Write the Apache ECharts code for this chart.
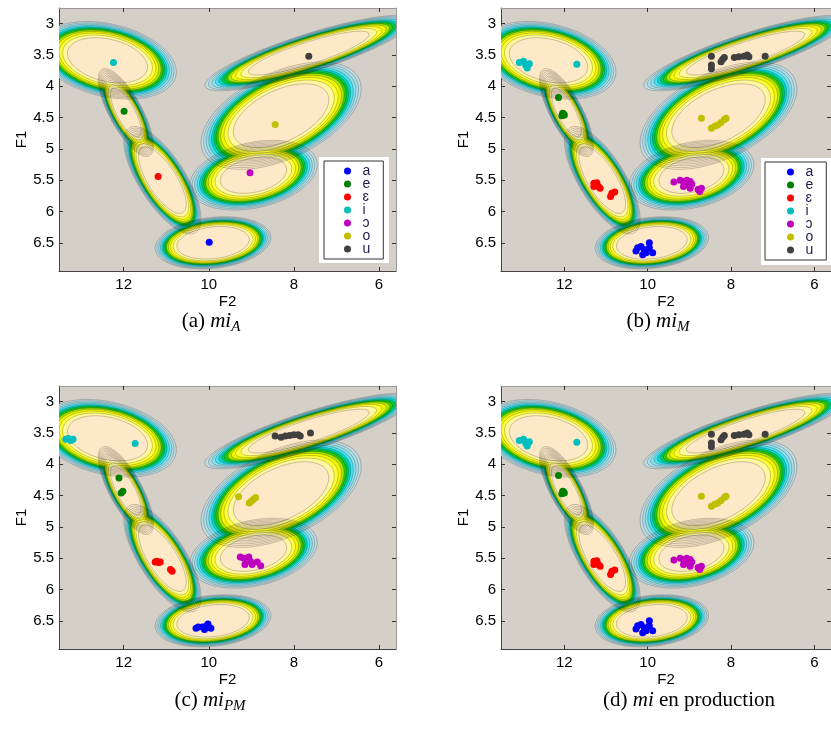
<!DOCTYPE html>
<html><head><meta charset="utf-8">
<script src="https://cdn.jsdelivr.net/npm/echarts@6/dist/echarts.min.js"></script>
<style>html,body{margin:0;padding:0;background:#fff}#c{width:831px;height:735px}</style>
</head><body><div id="c"></div>
<script>
// ---------- categories & tick labels ----------
const VOWELS = ['a', 'e', 'ɛ', 'i', 'ɔ', 'o', 'u'];
const VOWEL_COLORS = ['#0000ff', '#008000', '#ff0000', '#00bfbf', '#bf00bf', '#bfbf00', '#404040'];
const X_TICKS = [6, 8, 10, 12];
const Y_TICKS = [3, 3.5, 4, 4.5, 5, 5.5, 6, 6.5];
const X_RANGE = [5.6, 13.52];
const Y_RANGE = [2.75, 6.95];

// ---------- Gaussian vowel model (per vowel) ----------
const CENTER_F2 = [9.90, 11.95, 11.09, 12.38, 8.95, 8.30, 7.65];
const CENTER_F1 = [6.50, 4.42, 5.50, 3.585, 5.42, 4.47, 3.47];
const SPREAD_F2 = [0.85, 0.36, 0.56, 0.94, 0.78, 1.12, 1.42];
const SPREAD_F1 = [0.26, 0.39, 0.53, 0.36, 0.29, 0.51, 0.35];
const CORR = [0.2, -0.75, -0.72, -0.3, 0.3, 0.5, 0.85];
const OUTER_RATIO = [1.6, 1.8, 1.62, 1.72, 1.92, 1.68, 1.72];
// relative position of each contour line between the innermost and outermost line
const LEVEL_POS = [0, 0.17, 0.29, 0.39, 0.47, 0.54, 0.61, 0.68, 0.76, 0.84, 0.92, 1.0];
// fill inside each contour line (index 0 = innermost)
const LEVEL_FILLS = ['#fde8c8', '#fff6a0', '#ffff38', '#f0f600', '#b0e400', '#30cc00',
                     '#00c850', '#00d8c8', '#48e0ee', '#8cdeea', '#acdde6', '#c2dbe2'];

// ---------- scatter points (F2, F1) per panel, per vowel ----------
const PANEL_A = [
  [[9.99, 6.49]], [[11.99, 4.40]], [[11.19, 5.44]], [[12.24, 3.62]],
  [[9.03, 5.38]], [[8.44, 4.61]], [[7.65, 3.52]]
];
const PANEL_B = [
  [[10.28,6.63],[10.24,6.58],[10.16,6.56],[10.08,6.61],[10.04,6.66],[9.96,6.58],[9.96,6.50],[9.88,6.66],[10.12,6.69]],
  [[12.14,4.18],[12.04,4.43],[12.00,4.46],[12.06,4.47],[12.02,4.44]],
  [[11.29,5.55],[11.22,5.54],[11.26,5.57],[11.18,5.60],[11.29,5.60],[11.14,5.63],[10.86,5.71],[10.79,5.69],[10.89,5.76]],
  [[13.08,3.62],[12.98,3.60],[12.93,3.66],[12.89,3.71],[12.84,3.64],[11.70,3.65]],
  [[9.37,5.53],[9.22,5.50],[9.14,5.52],[9.06,5.50],[8.98,5.52],[9.06,5.57],[9.14,5.60],[8.98,5.63],[8.94,5.56],[8.79,5.65],[8.71,5.63],[8.75,5.68]],
  [[8.71,4.51],[8.47,4.67],[8.39,4.64],[8.32,4.62],[8.24,4.58],[8.16,4.53],[8.12,4.51]],
  [[8.47,3.52],[8.47,3.66],[8.47,3.72],[8.24,3.61],[8.20,3.57],[8.16,3.54],[7.92,3.54],[7.81,3.53],[7.69,3.52],[7.61,3.50],[7.57,3.53],[7.18,3.52]]
];
const PANEL_C = [
  [[10.30,6.62],[10.25,6.60],[10.15,6.60],[10.05,6.58],[10.00,6.60],[9.95,6.62],[10.10,6.64],[10.02,6.55]],
  [[12.11,4.22],[12.06,4.46],[12.02,4.43]],
  [[11.26,5.56],[11.22,5.55],[11.18,5.57],[11.14,5.56],[10.90,5.68],[10.86,5.71]],
  [[13.36,3.60],[13.30,3.59],[13.24,3.62],[13.19,3.60],[11.73,3.67]],
  [[9.26,5.48],[9.18,5.50],[9.12,5.52],[9.06,5.48],[9.02,5.55],[9.15,5.60],[8.98,5.60],[8.86,5.56],[8.78,5.62]],
  [[9.30,4.52],[9.05,4.62],[9.00,4.59],[8.95,4.56],[8.90,4.53]],
  [[8.44,3.55],[8.30,3.57],[8.20,3.55],[8.10,3.54],[8.00,3.53],[7.90,3.53],[7.85,3.55],[7.61,3.50]]
];
const PANEL_D = [
  [[10.28,6.63],[10.24,6.58],[10.16,6.56],[10.08,6.61],[10.04,6.66],[9.96,6.58],[9.96,6.50],[9.88,6.66],[10.12,6.69]],
  [[12.14,4.18],[12.04,4.43],[12.00,4.46],[12.06,4.47],[12.02,4.44]],
  [[11.29,5.55],[11.22,5.54],[11.26,5.57],[11.18,5.60],[11.29,5.60],[11.14,5.63],[10.86,5.71],[10.79,5.69],[10.89,5.76]],
  [[13.08,3.62],[12.98,3.60],[12.93,3.66],[12.89,3.71],[12.84,3.64],[11.70,3.65]],
  [[9.37,5.53],[9.22,5.50],[9.14,5.52],[9.06,5.50],[8.98,5.52],[9.06,5.57],[9.14,5.60],[8.98,5.63],[8.94,5.56],[8.79,5.65],[8.71,5.63],[8.75,5.68]],
  [[8.71,4.51],[8.47,4.67],[8.39,4.64],[8.32,4.62],[8.24,4.58],[8.16,4.53],[8.12,4.51]],
  [[8.47,3.52],[8.47,3.66],[8.47,3.72],[8.24,3.61],[8.20,3.57],[8.16,3.54],[7.92,3.54],[7.81,3.53],[7.69,3.52],[7.61,3.50],[7.57,3.53],[7.18,3.52]]
];
const PANELS = [PANEL_A, PANEL_B, PANEL_C, PANEL_D];

// ---------- layout ----------
const GRIDS = [
  {left: 59, top: 8, width: 337, height: 263},
  {left: 501, top: 8, width: 337, height: 263},
  {left: 59, top: 386, width: 337, height: 263},
  {left: 501, top: 386, width: 337, height: 263}
];
const SANS = 'Liberation Sans, Arial, sans-serif';
const SERIF = 'Liberation Serif, Times New Roman, serif';

function ellipsePoints(api, v, k) {
  const f = 1 + (OUTER_RATIO[v] - 1) * LEVEL_POS[k];
  const sx = SPREAD_F2[v] * f, sy = SPREAD_F1[v] * f, r = CORR[v], q = Math.sqrt(1 - r * r);
  const pts = [];
  const n = 96;
  for (let j = 0; j < n; j++) {
    const t = j / n * 2 * Math.PI, c = Math.cos(t), s = Math.sin(t);
    pts.push(api.coord([CENTER_F2[v] + sx * c, CENTER_F1[v] + sy * (r * c + q * s)]));
  }
  return pts;
}

const fillItems = [];
for (let k = LEVEL_POS.length - 1; k >= 0; k--) for (let v = 0; v < VOWELS.length; v++) fillItems.push([v, k]);
const lineItems = fillItems.slice();

const xAxes = [], yAxes = [], series = [];
GRIDS.forEach((g, gi) => {
  const tickStyle = {color: '#333', width: 1};
  xAxes.push({
    gridIndex: gi, type: 'value', min: X_RANGE[0], max: X_RANGE[1], inverse: true, position: 'bottom',
    axisLine: {show: true, onZero: false, lineStyle: {color: '#444', width: 1}},
    axisTick: {show: true, inside: true, length: 4, customValues: X_TICKS, lineStyle: tickStyle},
    axisLabel: {show: true, customValues: X_TICKS, margin: 6, fontSize: 15, color: '#000', fontFamily: SANS},
    splitLine: {show: false},
    name: 'F2', nameLocation: 'middle', nameGap: 23,
    nameTextStyle: {fontSize: 15, color: '#000', fontFamily: SANS}
  });
  xAxes.push({
    gridIndex: gi, type: 'value', min: X_RANGE[0], max: X_RANGE[1], inverse: true, position: 'top',
    axisLine: {show: true, onZero: false, lineStyle: {color: '#999', width: 1}},
    axisTick: {show: true, inside: true, length: 4, customValues: X_TICKS, lineStyle: tickStyle},
    axisLabel: {show: false}, splitLine: {show: false}
  });
  yAxes.push({
    gridIndex: gi, type: 'value', min: Y_RANGE[0], max: Y_RANGE[1], inverse: true, position: 'left',
    axisLine: {show: true, onZero: false, lineStyle: {color: '#444', width: 1}},
    axisTick: {show: true, inside: true, length: 4, customValues: Y_TICKS, lineStyle: tickStyle},
    axisLabel: {show: true, customValues: Y_TICKS, margin: 5, fontSize: 15, color: '#000', fontFamily: SANS},
    splitLine: {show: false},
    name: 'F1', nameLocation: 'middle', nameGap: 30, nameRotate: 90,
    nameTextStyle: {fontSize: 15, color: '#000', fontFamily: SANS}
  });
  yAxes.push({
    gridIndex: gi, type: 'value', min: Y_RANGE[0], max: Y_RANGE[1], inverse: true, position: 'right',
    axisLine: {show: true, onZero: false, lineStyle: {color: '#999', width: 1}},
    axisTick: {show: true, inside: true, length: 4, customValues: Y_TICKS, lineStyle: tickStyle},
    axisLabel: {show: false}, splitLine: {show: false}
  });
  series.push({
    type: 'custom', xAxisIndex: 2 * gi, yAxisIndex: 2 * gi, clip: true, silent: true, z: 1,
    data: fillItems,
    renderItem: (params, api) => {
      const v = api.value(0), k = api.value(1);
      return {type: 'polygon', z2: 20 - k, shape: {points: ellipsePoints(api, v, k)},
              style: {fill: LEVEL_FILLS[k], stroke: null}};
    }
  });
  series.push({
    type: 'custom', xAxisIndex: 2 * gi, yAxisIndex: 2 * gi, clip: true, silent: true, z: 2,
    data: lineItems,
    renderItem: (params, api) => {
      const v = api.value(0), k = api.value(1);
      return {type: 'polygon', shape: {points: ellipsePoints(api, v, k)},
              style: {fill: null, stroke: 'rgba(0,0,0,0.42)', lineWidth: 0.5}};
    }
  });
  PANELS[gi].forEach((pts, v) => {
    series.push({
      type: 'scatter', name: VOWELS[v], xAxisIndex: 2 * gi, yAxisIndex: 2 * gi,
      data: pts, symbol: 'circle', symbolSize: 7, z: 5, silent: true,
      itemStyle: {color: VOWEL_COLORS[v], opacity: 1}
    });
  });
});

const legendCommon = {
  data: VOWELS, orient: 'vertical', icon: 'circle', itemWidth: 20, itemHeight: 7, itemGap: -1,
  borderColor: '#333', borderWidth: 1, backgroundColor: '#fff', selectedMode: false, z: 12,
  textStyle: {fontSize: 14, lineHeight: 13, color: '#1c1c50', fontFamily: SANS}
};

function caption(x, y, label, sub, tail) {
  let text = '{r|' + label + ' }{i|mi}';
  if (sub) text += '{s|' + sub + '}';
  if (tail) text += '{r| ' + tail + '}';
  return {
    type: 'text', x: x, y: y, z: 20,
    style: {
      text: text, align: 'center', verticalAlign: 'middle',
      rich: {
        r: {fontFamily: SERIF, fontSize: 21, lineHeight: 28, color: '#000'},
        i: {fontFamily: SERIF, fontSize: 21, fontStyle: 'italic', lineHeight: 28, color: '#000'},
        s: {fontFamily: SERIF, fontSize: 15, fontStyle: 'italic', lineHeight: 14, verticalAlign: 'bottom', color: '#000'}
      }
    }
  };
}

const option = {
  animation: false,
  backgroundColor: '#fff',
  grid: GRIDS.map(g => Object.assign({show: true, backgroundColor: '#d4d0c8', borderWidth: 0}, g)),
  xAxis: xAxes, yAxis: yAxes, series: series,
  legend: [
    Object.assign({left: 324, top: 161, padding: [3, 13, 3, 20]}, legendCommon),
    Object.assign({left: 765, top: 162, padding: [3, 13, 3, 22]}, legendCommon)
  ],
  graphic: [
    {type: 'rect', z: 10, shape: {x: 319, y: 157, width: 70, height: 106}, style: {fill: '#fff'}},
    {type: 'rect', z: 10, shape: {x: 761, y: 158, width: 75, height: 107}, style: {fill: '#fff'}},
    caption(211, 321, '(a)', 'A'),
    caption(658, 321, '(b)', 'M'),
    caption(210, 700, '(c)', 'PM'),
    caption(689, 700, '(d)', null, 'en production')
  ]
};

const chart = echarts.init(document.getElementById('c'), null, {renderer: 'canvas'});
chart.setOption(option);
</script></body></html>
